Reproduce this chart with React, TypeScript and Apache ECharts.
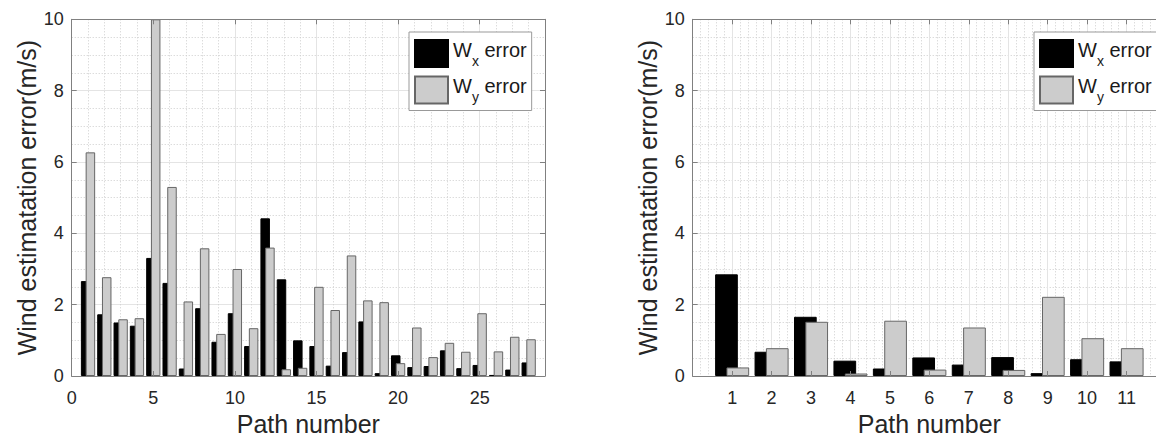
import React, { useEffect, useRef } from 'react';
import * as echarts from 'echarts';

// ---- data ----
const pathsLeft = [1, 2, 3, 4, 5, 6, 7, 8, 9, 10, 11, 12, 13, 14, 15, 16, 17, 18, 19, 20, 21, 22, 23, 24, 25, 26, 27, 28];
const wxLeft = [2.66, 1.73, 1.5, 1.41, 3.31, 2.61, 0.21, 1.9, 0.96, 1.76, 0.84, 4.42, 2.71, 1.0, 0.84, 0.29, 0.67, 1.53, 0.08, 0.58, 0.25, 0.28, 0.72, 0.22, 0.31, 0.03, 0.18, 0.38];
const wyLeft = [6.27, 2.77, 1.59, 1.62, 10, 5.3, 2.09, 3.58, 1.18, 3.0, 1.34, 3.6, 0.19, 0.23, 2.5, 1.85, 3.38, 2.12, 2.07, 0.36, 1.36, 0.53, 0.93, 0.68, 1.76, 0.69, 1.1, 1.03];

const pathsRight = [1, 2, 3, 4, 5, 6, 7, 8, 9, 10, 11];
const wxRight = [2.85, 0.68, 1.66, 0.43, 0.21, 0.52, 0.32, 0.53, 0.08, 0.47, 0.41];
const wyRight = [0.24, 0.78, 1.52, 0.07, 1.55, 0.18, 1.36, 0.17, 2.22, 1.06, 0.78];

const seriesNames = ['Wx error', 'Wy error'];
const yTitle = 'Wind estimatation error(m/s)';
const xTitle = 'Path number';

// ---- styles ----
const FONT = '"Liberation Sans", Arial, Helvetica, sans-serif';
const TXT = '#262626';
const FRAME = '#808080';
const MAJOR = '#e4e4e4';
const MINOR = '#cdcdcd';
const BLACK = '#000000';
const GRAY = '#cccccc';
const GRAY_EDGE = '#666666';

const hidden = {
  axisLine: { show: false },
  axisTick: { show: false },
  axisLabel: { show: false },
};
const majorLine = { show: true, lineStyle: { color: MAJOR, width: 1, type: 'solid' } };
const minorLine = { show: true, lineStyle: { color: MINOR, width: 1, type: [1, 2] } };

function frameAxis(extra: any) {
  return {
    type: 'value',
    axisLine: { show: true, onZero: false, lineStyle: { color: FRAME, width: 1 } },
    axisTick: { show: true, inside: true, length: 5, lineStyle: { color: FRAME } },
    splitLine: { show: false },
    z: 5,
    ...extra,
  };
}

const labelStyle = { fontSize: 18, color: TXT, fontFamily: FONT };
const nameStyle = { fontSize: 25, color: TXT, fontFamily: FONT };

function xAxesFor(gridIndex: number, max: number, interval: number, minorAxis: boolean, fmt: (v: number) => string) {
  const axes: any[] = [];
  if (minorAxis) {
    axes.push({ type: 'value', gridIndex, min: 0, max, interval: 1, ...hidden, splitLine: minorLine, z: 0 });
    axes.push({ type: 'value', gridIndex, min: 0, max, interval, ...hidden, splitLine: majorLine, z: 0 });
  } else {
    axes.push({
      type: 'value', gridIndex, min: 0, max, interval, ...hidden, splitLine: majorLine,
      minorTick: { show: false, splitNumber: 5 }, minorSplitLine: minorLine, z: 0,
    });
  }
  axes.push(frameAxis({
    gridIndex, min: 0, max, interval, position: 'bottom',
    axisLabel: { show: true, margin: 13, ...labelStyle, formatter: fmt },
    name: xTitle, nameLocation: 'middle', nameGap: 32, nameTextStyle: nameStyle,
  }));
  axes.push(frameAxis({ gridIndex, min: 0, max, interval, position: 'top', axisLabel: { show: false } }));
  return axes;
}

function yAxesFor(gridIndex: number) {
  return [
    {
      type: 'value', gridIndex, min: 0, max: 10, interval: 2, ...hidden, splitLine: majorLine,
      minorTick: { show: false, splitNumber: 4 }, minorSplitLine: minorLine, z: 0,
    },
    frameAxis({
      gridIndex, min: 0, max: 10, interval: 2, position: 'left',
      axisLabel: { show: true, margin: 8, ...labelStyle },
      name: yTitle, nameLocation: 'middle', nameGap: 32, nameTextStyle: nameStyle,
    }),
    frameAxis({ gridIndex, min: 0, max: 10, interval: 2, position: 'right', axisLabel: { show: false } }),
  ];
}

function barSeries(name: string, xs: number[], ys: number[], xAxisIndex: number, yAxisIndex: number, width: number, color: string, edge: string) {
  return {
    type: 'bar',
    name,
    xAxisIndex,
    yAxisIndex,
    data: xs.map((x, i) => [x, ys[i]]),
    barWidth: width,
    barGap: '-50%',
    clip: true,
    itemStyle: { color, borderColor: edge, borderWidth: 1 },
    emphasis: { disabled: true },
    z: 2,
  };
}

function legendFor(left: number) {
  return {
    left,
    top: 32,
    orient: 'vertical',
    icon: 'rect',
    itemWidth: 33,
    itemHeight: 27,
    itemGap: 7.5,
    padding: [7, 5, 6, 5],
    borderColor: '#999999',
    borderWidth: 1,
    backgroundColor: '#ffffff',
    data: seriesNames,
    selectedMode: false,
    formatter: (name: string) => (name === 'Wx error' ? '{m|W}{s|x}{m| error}' : '{m|W}{s|y}{m| error}'),
    textStyle: {
      fontFamily: FONT,
      rich: {
        m: { fontSize: 20, color: '#1a1a1a', fontFamily: FONT, padding: [0, 0, 8, 0], verticalAlign: 'bottom' },
        s: { fontSize: 14, color: '#1a1a1a', fontFamily: FONT, verticalAlign: 'bottom' },
      },
    },
    z: 10,
  };
}

const leftX = xAxesFor(0, 29, 5, true, (v: number) => (v % 5 === 0 ? String(v) : ''));
const rightX = xAxesFor(1, 12, 1, false, (v: number) => (v >= 1 && v <= 11 ? String(v) : ''));
const xAxes = [...leftX, ...rightX];
const rightXBase = leftX.length;
const yAxes = [...yAxesFor(0), ...yAxesFor(1)];

const option: any = {
  animation: false,
  backgroundColor: '#ffffff',
  textStyle: { fontFamily: FONT },
  grid: [
    { left: 71.7, top: 19.3, width: 473.3, height: 356.7, outerBoundsMode: 'none' },
    { left: 692.7, top: 19.3, width: 473.3, height: 356.7, outerBoundsMode: 'none' },
  ],
  xAxis: xAxes,
  yAxis: yAxes,
  legend: [legendFor(409), legendFor(1034)],
  series: [
    barSeries(seriesNames[0], pathsLeft, wxLeft, 1, 0, 9.5, BLACK, BLACK),
    barSeries(seriesNames[1], pathsLeft, wyLeft, 1, 0, 9.5, GRAY, GRAY_EDGE),
    barSeries(seriesNames[0], pathsRight, wxRight, rightXBase, 3, 22.7, BLACK, BLACK),
    barSeries(seriesNames[1], pathsRight, wyRight, rightXBase, 3, 22.7, GRAY, GRAY_EDGE),
  ],
};

export default function App() {
  const ref = useRef<HTMLDivElement>(null);
  useEffect(() => {
    const chart = echarts.init(ref.current as HTMLDivElement, null, { renderer: 'svg' });
    chart.setOption(option);
    return () => chart.dispose();
  }, []);
  return (
    <div
      ref={ref}
      style={{ position: 'fixed', left: 0, top: 0, width: 1156, height: 439, background: '#ffffff' }}
    />
  );
}
